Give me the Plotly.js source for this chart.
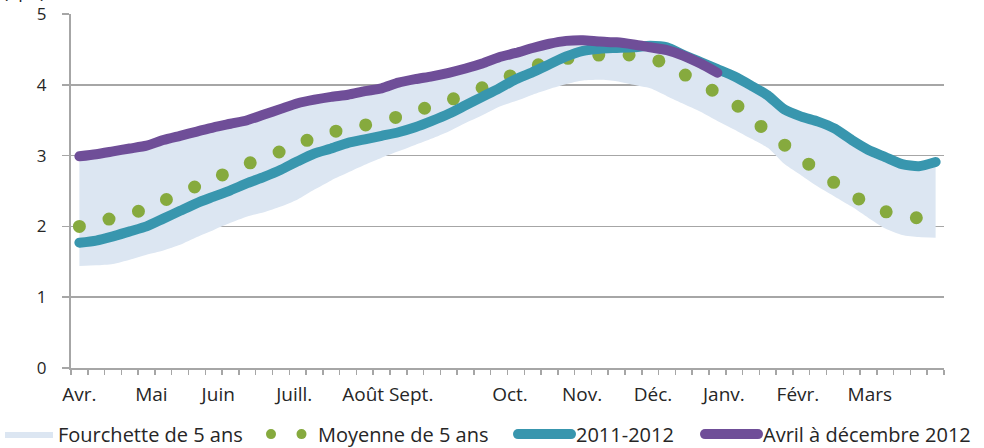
<!DOCTYPE html>
<html>
<head>
<meta charset="utf-8">
<script src="https://cdn.plot.ly/plotly-3.0.1.min.js"></script>
<style>
html,body{margin:0;padding:0;background:#fff;}
#chart{width:984px;height:448px;}
</style>
</head>
<body>
<div id="chart"></div>
<script>
// Weekly index (April -> March, 52 weeks)
const weeks = Array.from({length: 52}, (_, i) => i);

const monthLabels = ["Avr.", "Mai", "Juin", "Juill.", "Août", "Sept.", "Oct.", "Nov.", "Déc.", "Janv.", "Févr.", "Mars"];
const monthLabelPos = [0, 4.29, 8.27, 12.8, 16.9, 19.76, 25.65, 29.94, 34.17, 38.39, 42.8, 47.08];

const rangeLow = [1.44,1.45,1.47,1.53,1.60,1.66,1.74,1.85,1.95,2.05,2.14,2.20,2.28,2.38,2.52,2.65,2.76,2.87,2.97,3.06,
  3.15,3.24,3.34,3.46,3.57,3.69,3.77,3.86,3.94,4.01,4.06,4.07,4.05,4.00,3.95,3.84,3.73,3.62,3.49,3.37,
  3.24,3.11,2.88,2.72,2.56,2.42,2.28,2.12,1.97,1.88,1.85,1.84];
const rangeHigh = [2.96,2.99,3.03,3.07,3.11,3.19,3.25,3.31,3.37,3.42,3.47,3.55,3.63,3.71,3.76,3.80,3.83,3.88,3.92,4.00,
  4.05,4.09,4.14,4.20,4.27,4.36,4.42,4.49,4.54,4.57,4.58,4.57,4.56,4.54,4.52,4.48,4.40,4.30,4.20,4.10,
  3.97,3.83,3.65,3.55,3.46,3.36,3.20,3.06,2.96,2.86,2.83,2.88];
const mean5 = [2.00,2.05,2.12,2.18,2.25,2.36,2.47,2.57,2.67,2.78,2.88,2.98,3.06,3.17,3.25,3.33,3.38,3.43,3.49,3.55,
  3.63,3.70,3.78,3.86,3.96,4.06,4.16,4.26,4.32,4.37,4.40,4.42,4.42,4.42,4.37,4.30,4.15,4.02,3.88,3.74,
  3.54,3.33,3.15,2.96,2.78,2.61,2.45,2.31,2.21,2.14,2.12,2.12];
const y2011 = [1.77,1.80,1.86,1.93,2.00,2.11,2.22,2.33,2.42,2.51,2.61,2.70,2.80,2.92,3.03,3.10,3.18,3.23,3.28,3.33,
  3.40,3.49,3.59,3.71,3.83,3.95,4.08,4.18,4.29,4.40,4.48,4.51,4.52,4.53,4.55,4.53,4.42,4.32,4.22,4.12,
  3.99,3.85,3.65,3.55,3.48,3.38,3.22,3.08,2.98,2.88,2.85,2.91];
const y2012 = [2.99,3.02,3.06,3.10,3.14,3.22,3.28,3.34,3.40,3.45,3.50,3.58,3.66,3.74,3.79,3.83,3.86,3.91,3.95,4.03,
  4.08,4.12,4.17,4.23,4.30,4.39,4.45,4.52,4.58,4.62,4.63,4.61,4.60,4.57,4.53,4.49,4.41,4.30,4.17];

const names = ["Fourchette de 5 ans", "Moyenne de 5 ans", "2011-2012", "Avril à décembre 2012"];
const colors = {band: "#DCE6F2", mean: "#86AA3E", teal: "#3896AE", purple: "#6F4E98"};

const traces = [
  {x: weeks, y: rangeLow, type: "scatter", mode: "lines", line: {width: 0, shape: "spline", smoothing: 0.6},
   showlegend: false, hoverinfo: "skip"},
  {x: weeks, y: rangeHigh, type: "scatter", mode: "lines", name: names[0], fill: "tonexty", legend: "legend",
   fillcolor: colors.band, line: {width: 0, shape: "spline", smoothing: 0.6}},
  {x: weeks, y: mean5, type: "scatter", mode: "lines", name: names[1], legend: "legend2",
   line: {color: colors.mean, width: 13, dash: "0px,30.5px", shape: "spline", smoothing: 0.6}},
  {x: weeks, y: y2011, type: "scatter", mode: "lines", name: names[2], legend: "legend3",
   line: {color: colors.teal, width: 10, shape: "spline", smoothing: 0.6}},
  {x: weeks.slice(0, y2012.length), y: y2012, type: "scatter", mode: "lines", name: names[3], legend: "legend4",
   line: {color: colors.purple, width: 10, shape: "spline", smoothing: 0.6}}
];

const tickBounds = Array.from({length: 53}, (_, i) => i - 0.5);

function legendAt(xpx, w) {
  return {orientation: "h", xref: "container", yref: "container", x: xpx / 984, y: 0.031,
          xanchor: "left", yanchor: "middle", font: {size: 20, color: "#262626"},
          itemwidth: w, bgcolor: "rgba(0,0,0,0)"};
}

const layout = {
  width: 984, height: 448,
  margin: {l: 71, r: 40, t: 14, b: 80, autoexpand: false},
  paper_bgcolor: "#fff", plot_bgcolor: "#fff",
  font: {family: "Open Sans, sans-serif", color: "#262626", size: 15},
  showlegend: true,
  legend: legendAt(0, 48),
  legend2: legendAt(266, 42),
  legend3: legendAt(513, 53),
  legend4: legendAt(700, 53),
  xaxis: {range: [-0.5, 51.5], showgrid: false, zeroline: false, showline: true,
          linecolor: "#A6A6A6", linewidth: 2, ticks: "", tickmode: "array",
          tickvals: monthLabelPos, ticktext: monthLabels,
          tickfont: {size: 19, color: "#262626"}, ticklabelstandoff: 8,
          minor: {tickmode: "array", tickvals: tickBounds, ticks: "outside", ticklen: 5,
                  tickwidth: 1.5, tickcolor: "#A6A6A6", showgrid: false},
          fixedrange: true},
  yaxis: {range: [0, 5], dtick: 1, tick0: 0, showgrid: true, gridcolor: "#A6A6A6", gridwidth: 1.5,
          zeroline: false, showline: true, linecolor: "#A6A6A6", linewidth: 2,
          ticks: "outside", ticklen: 7, tickwidth: 1.5, tickcolor: "#A6A6A6",
          tickfont: {size: 17, color: "#262626"}, ticklabelstandoff: 12},
  annotations: [{text: "(Tpi³)", xref: "paper", yref: "paper", x: -0.08, y: 1.0395,
                 xanchor: "left", yanchor: "bottom", yshift: -5, showarrow: false,
                 font: {size: 18, color: "#262626"}}]
};

Plotly.newPlot("chart", traces, layout, {staticPlot: true, displayModeBar: false}).then(gd => {
  gd.querySelectorAll(".scatterlayer .js-line, .legendlines path").forEach(p => {
    p.style.strokeLinecap = "round";
    p.style.strokeLinejoin = "round";
  });
});
</script>
</body>
</html>
